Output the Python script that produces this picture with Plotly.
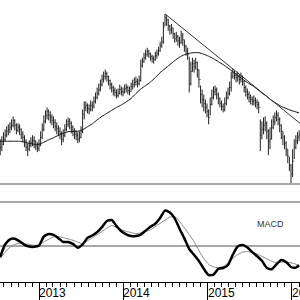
import plotly.graph_objects as go
import pandas as pd

# weekly bars
weeks = pd.date_range("2012-07-16", periods=186, freq="7D")

close = [42,45,50,54,58,60,62,64,69,64,59,62,60,55,52,48,42,40,44,47,
         49,48,43,41,44,52,60,68,74,78,74,72,69,67,63,61,58,56,50,54,
         60,65,68,66,62,58,55,54,50,52,58,75,82,84,81,80,84,83,88,92,
         96,100,105,110,113,116,113,109,105,102,99,97,94,96,100,98,97,101,102,99,
         98,103,105,107,108,106,109,124,128,132,135,138,136,133,131,130,134,136,139,144,
         148,163,172,170,164,160,162,156,151,153,149,147,154,150,143,139,135,106,118,126,
         123,127,120,110,95,90,86,82,78,72,85,92,98,100,95,91,86,83,80,86,
         92,96,102,113,117,114,112,114,110,113,108,102,98,95,92,90,88,89,87,85,
         82,54,60,64,66,58,48,50,62,68,72,74,70,64,58,52,46,40,33,24,
         15,28,42,48,52,54]

high = [50,53,57,60,63,65,67,70,73,70,66,66,65,61,58,54,50,46,49,52,
        54,53,49,47,50,58,66,74,79,82,80,78,75,73,70,67,64,62,58,60,
        65,70,72,71,68,64,61,59,57,58,63,80,88,88,86,85,89,88,93,97,
        102,106,110,115,118,120,118,114,110,107,104,102,100,101,105,103,102,105,106,104,
        103,107,110,112,113,111,114,130,132,137,140,142,140,137,135,134,138,140,143,148,
        153,168,176,175,171,165,166,162,157,158,155,153,159,157,150,145,142,133,128,132,
        130,132,128,120,104,100,95,90,86,80,92,100,103,104,102,97,92,89,86,92,
        98,102,108,118,121,119,117,118,115,117,114,109,104,101,98,95,93,94,92,90,
        88,70,68,72,73,68,60,62,70,74,77,79,77,72,65,58,54,48,40,32,
        25,40,50,54,57,59]

low = [34,38,44,48,52,54,56,59,62,59,55,57,54,50,47,42,38,33,38,42,
       43,41,39,37,38,43,50,58,66,70,69,66,64,61,58,55,53,50,44,47,
       52,58,62,60,56,53,50,49,46,47,51,56,70,78,76,75,78,78,81,86,
       90,94,98,103,107,110,108,104,100,97,94,93,91,92,95,94,93,96,97,95,
       94,98,100,102,104,102,104,108,122,127,130,133,132,129,127,126,129,131,134,138,
       142,146,164,164,159,155,156,151,147,148,144,142,146,144,138,134,130,97,104,118,
       117,120,112,102,86,82,78,76,72,65,74,84,90,94,90,85,82,79,77,78,
       84,90,94,98,111,110,107,108,105,107,104,97,93,90,87,85,84,84,82,80,
       76,38,50,55,58,50,34,40,50,60,64,68,64,57,50,44,40,33,26,18,
       6,12,30,40,45,48]

open_ = [40] + close[:-1]

# 40-week moving average and MACD, read every third week
ma = [48,48,48,48,48,47,46,45,45,47,49.5,51.5,54,56,57.5,58,58,59.5,62.5,65.5,
      69.5,73,76,79,82,84.5,87.5,91,96,100.5,104,107.5,112,117,121,125,129,132.5,135,136.5,
      137,137,135.5,133.5,131,128,125,121.5,118,114,110.5,107,104,100.5,96.5,93,89,86,83,81,
      79,77.5,76.5]

macd = [-1.1,0.15,0.67,0.72,0.46,0.12,-0.06,-0.08,0.04,0.95,1.2,1.11,0.78,0.4,0.4,0.21,-0.17,0.16,0.81,1.05,
        1.39,1.89,2.5,2.6,1.99,1.48,1.17,1.0,1.0,1.14,1.54,1.92,2.23,2.8,3.54,3.34,2.76,1.73,0.76,-0.3,
        -0.89,-1.5,-2.28,-2.9,-2.86,-2.28,-2.2,-1.9,-0.87,-0.06,0.09,-0.16,-0.61,-1.02,-1.48,-2.18,-2.33,-1.84,-1.41,-1.6,
        -2.1,-2.16,-1.93]

signal = [-1.2,-0.62,-0.13,0.16,0.28,0.23,0.16,0.06,0.11,0.41,0.67,0.91,0.94,0.84,0.71,0.57,0.39,0.22,0.53,0.82,
          1.13,1.45,1.78,2.05,1.85,1.63,1.47,1.35,1.23,1.31,1.46,1.62,1.94,2.27,2.59,2.89,2.95,2.46,1.82,1.14,
          0.44,-0.44,-1.27,-1.83,-2.09,-2.17,-2.05,-1.71,-1.23,-0.87,-0.63,-0.55,-0.64,-0.8,-1.04,-1.28,-1.53,-1.68,-1.62,-1.63,
          -1.68,-1.82,-1.96]

sample_idx = list(range(0, 186, 3)) + [185]
sample_dates = [weeks[i] for i in sample_idx]

trend_dates = ["2014-06-30", "2016-02-05"]
trend_vals = [176, 66]

year_labels = ["2013", "2014", "2015", "2016"]

H = 300.0
up_dom = [(H - 184) / H, 1.0]
lo_dom = [(H - 282) / H, (H - 202) / H]

fig = go.Figure()
fig.add_trace(go.Ohlc(x=weeks, open=open_, high=high, low=low, close=close,
                      increasing=dict(line=dict(color="#222222", width=1)),
                      decreasing=dict(line=dict(color="#222222", width=1)),
                      tickwidth=0.4, xaxis="x", yaxis="y", showlegend=False,
                      hoverinfo="skip"))
fig.add_trace(go.Scatter(x=sample_dates, y=ma, mode="lines",
                         line=dict(color="#111111", width=1, shape="spline", smoothing=0.6),
                         xaxis="x", yaxis="y", showlegend=False))
fig.add_trace(go.Scatter(x=trend_dates, y=trend_vals, mode="lines", line=dict(color="#333333", width=1),
                         xaxis="x", yaxis="y", showlegend=False))
fig.add_trace(go.Scatter(x=sample_dates, y=signal, mode="lines",
                         line=dict(color="#888888", width=1, shape="spline", smoothing=0.6),
                         xaxis="x", yaxis="y2", showlegend=False))
fig.add_trace(go.Scatter(x=sample_dates, y=macd, mode="lines",
                         line=dict(color="#000000", width=2.5, shape="spline", smoothing=0.6),
                         xaxis="x", yaxis="y2", showlegend=False))

shapes = [
    dict(type="line", xref="paper", yref="paper", x0=0, x1=1, y0=up_dom[0], y1=up_dom[0],
         line=dict(color="#a8a8a8", width=2)),
    dict(type="line", xref="paper", yref="paper", x0=0, x1=1, y0=lo_dom[1], y1=lo_dom[1],
         line=dict(color="#a8a8a8", width=2)),
    dict(type="line", xref="paper", yref="y2", x0=0, x1=1, y0=0, y1=0,
         line=dict(color="#a8a8a8", width=2), layer="below"),
]

annotations = [dict(x=f"{y}-01-01", xref="x", y=(H - 293) / H, yref="paper", text=y,
                    showarrow=False, xanchor="left", yanchor="middle", xshift=-2,
                    font=dict(family="Liberation Sans, Arial", size=12, color="#000"))
               for y in year_labels]
annotations.append(dict(x=(257 - 2) / 300, xref="paper", y=(H - 224) / H, yref="paper", text="MACD",
                        showarrow=False, xanchor="left", yanchor="middle",
                        font=dict(family="Liberation Sans, Arial", size=9, color="#333")))

fig.update_layout(
    width=300, height=300, margin=dict(l=0, r=0, t=0, b=0),
    paper_bgcolor="white", plot_bgcolor="white",
    showlegend=False,
    xaxis=dict(type="date", range=["2012-07-15", "2016-02-05"], anchor="y2",
               rangeslider=dict(visible=False),
               tickmode="linear", tick0="2013-01-01", dtick="M12",
               ticks="outside", ticklen=17, tickwidth=1, tickcolor="black",
               showticklabels=False, showgrid=False, zeroline=False,
               showline=True, linecolor="black", linewidth=1,
               minor=dict(dtick="M1", tick0="2013-01-01", ticks="outside", ticklen=4,
                          tickwidth=1, tickcolor="black", showgrid=False)),
    yaxis=dict(domain=up_dom, range=[5, 190], visible=False, showgrid=False),
    yaxis2=dict(domain=lo_dom, range=[-3.6, 4.4], visible=False, showgrid=False),
    shapes=shapes, annotations=annotations,
)

fig.write_html("out.html")
